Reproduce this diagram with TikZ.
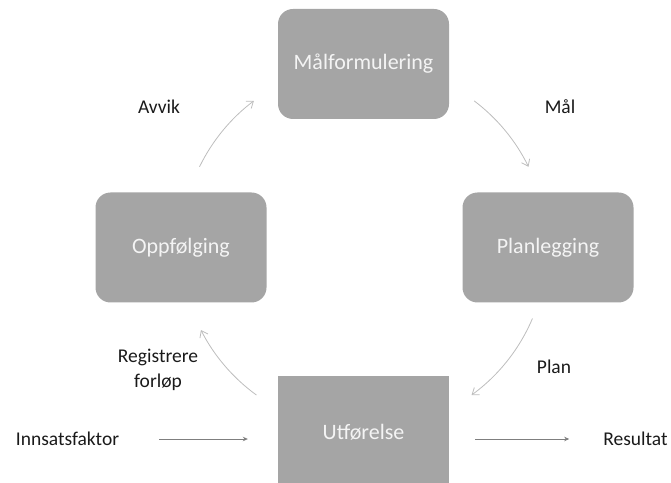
\documentclass[tikz,border=0pt]{standalone}
\usepackage{fontspec}
\setmainfont{Carlito}
\usetikzlibrary{arrows.meta,calc}
\definecolor{boxgray}{HTML}{A5A5A5}
\definecolor{boxtext}{HTML}{F4F4F4}
\definecolor{cyclearrow}{HTML}{BDBDBD}
\definecolor{flowarrow}{HTML}{7F7F7F}
\definecolor{labeltext}{HTML}{1A1A1A}
\tikzset{
  stagebox/.style={fill=boxgray, draw=none, rounded corners=15pt, minimum width=171pt, minimum height=110pt, text=boxtext, font=\fontsize{22}{26}\selectfont, inner sep=0pt},
  execbox/.style={stagebox, rounded corners=0pt},
  lbl/.style={text=labeltext, font=\fontsize{19.5}{25}\selectfont, inner sep=0pt, align=center},
  cyclearr/.style={draw=cyclearrow, line width=0.8pt, -{Straight Barb[length=6pt,width=9pt]}},
  flowarr/.style={draw=flowarrow, line width=0.7pt, -{Stealth[length=5pt,width=4.5pt]}}
}
\begin{document}
\begin{tikzpicture}[x=1pt,y=1pt]
\useasboundingbox (0,0) rectangle (671,482);
\clip (0,0) rectangle (671,482);
\node[stagebox] (M) at (363.5,418) {Målformulering};
\node[stagebox] (P) at (548,234.5) {Planlegging};
\node[stagebox] (O) at (181,234.5) {Oppfølging};
\node[execbox] (U) at (363.5,51) {};
\node[text=boxtext, font=\fontsize{22}{26}\selectfont, inner sep=0pt] (Ut) at (363.5,50) {Utførelse};
\node[lbl] (avvik) at (159,375) {Avvik};
\node[lbl] (mal) at (560,375) {Mål};
\node[lbl] (plan) at (554,115) {Plan};
\node[lbl] (reg) at (158,112.5) {Registrere\\forløp};
\node[lbl] (inn) at (67.5,43) {Innsatsfaktor};
\node[lbl] (res) at (635.5,43) {Resultat};
\coordinate (c) at (364,235);
\coordinate (a1) at ($(c)+(154:183)$);
\coordinate (a2) at ($(c)+(53:183)$);
\coordinate (a3) at ($(c)+(-23:183)$);
\coordinate (a4) at ($(c)+(-126:183)$);
\draw[cyclearr] (a1) arc[start angle=154, end angle=127, radius=183];
\draw[cyclearr] (a2) arc[start angle=53, end angle=26, radius=183];
\draw[cyclearr] (a3) arc[start angle=-23, end angle=-54, radius=183];
\draw[cyclearr] (a4) arc[start angle=-126, end angle=-153, radius=183];
\draw[flowarr, shorten <=40pt, shorten >=30pt] (inn.east) -- (inn.east -| U.west);
\draw[flowarr, shorten <=26pt, shorten >=34pt] (U.east |- res.west) -- (res.west);
\end{tikzpicture}
\end{document}
